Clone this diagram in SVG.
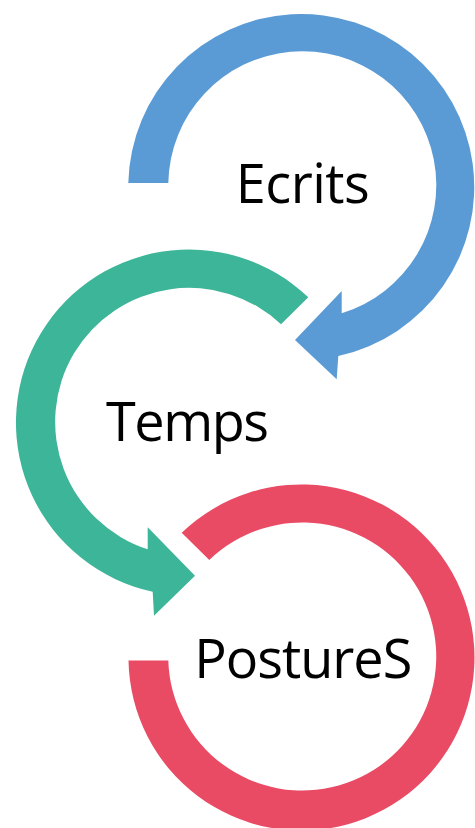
<svg xmlns="http://www.w3.org/2000/svg" width="475" height="828" viewBox="0 0 475 828">
<style>
.lbl{font-family:"Open Sans","Noto Sans","Liberation Sans",sans-serif;font-size:54px;fill:#000;text-anchor:middle}
.blue{fill:#5B9BD5}
.green{fill:#3DB598}
.red{fill:#E94B65}
</style>
<rect width="475" height="828" fill="#fff"/>
<g id="node-ecrits">
<path class="blue" d="M128.3 183 A173 173 0 1 1 338.3 356 L336.7 379.3 L295 340 L341.7 291 L341.7 313.3 A134 134 0 1 0 168.3 183 Z"/>
<text class="lbl" x="302.8" y="202.7" textLength="134">Ecrits</text>
</g>
<g id="node-temps">
<path class="green" d="M308.3 297.3 A173 173 0 1 0 152.7 591.7 L154 615.7 L195 575.7 L147.7 527.3 L147.7 549.3 A134 134 0 1 1 281 324.3 Z"/>
<text class="lbl" x="187.5" y="440.7" textLength="163">Temps</text>
</g>
<g id="node-postures">
<path class="red" d="M181.7 532.7 A173 173 0 1 1 128.5 660.5 L168.3 660.5 A134 134 0 1 0 209.3 560 Z"/>
<text class="lbl" x="303.3" y="678.3" textLength="218">PostureS</text>
</g>
</svg>
